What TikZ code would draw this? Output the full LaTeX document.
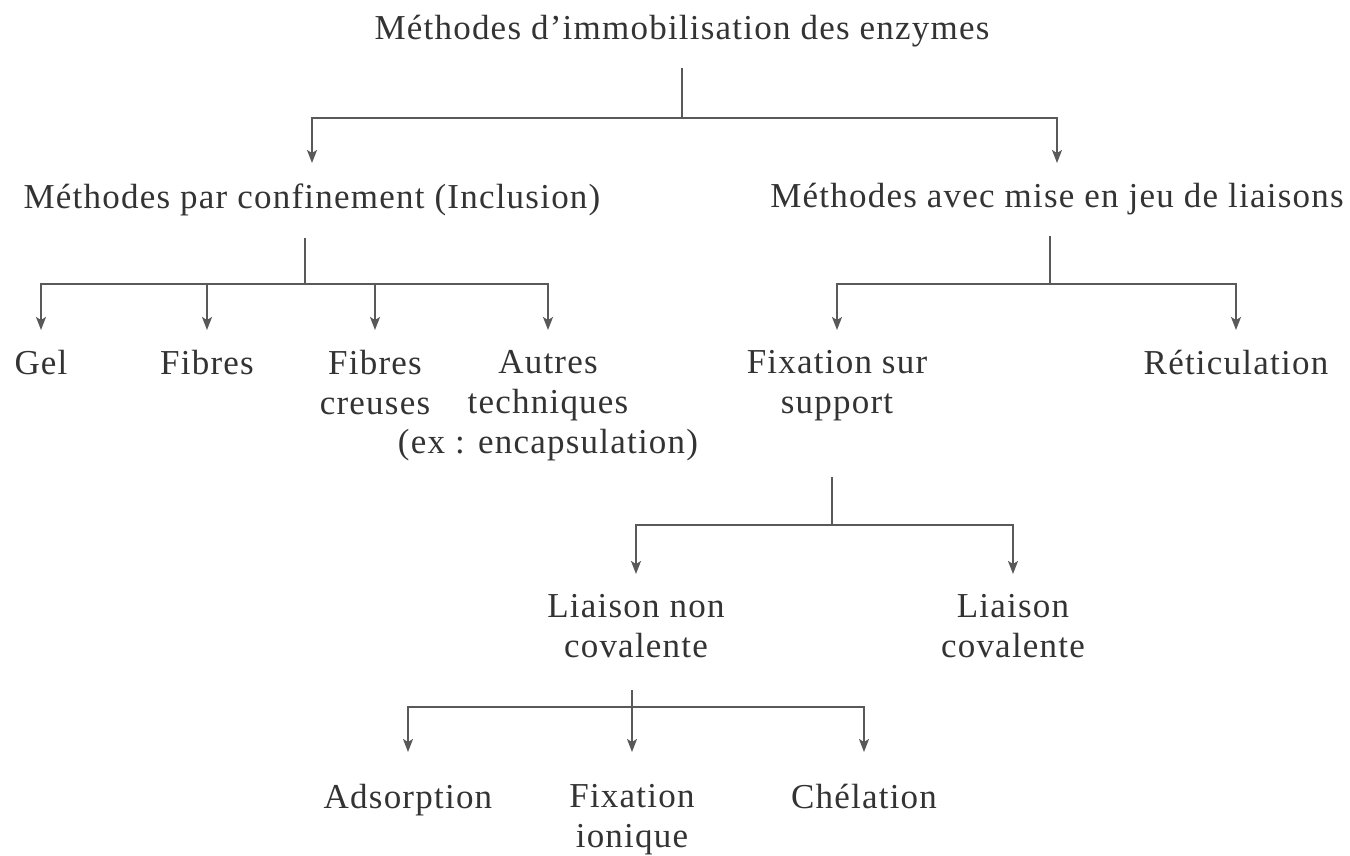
\documentclass[tikz,border=0pt]{standalone}
\usepackage{fontspec}
\setmainfont{Liberation Serif}[LetterSpace=3.5]
\usetikzlibrary{arrows.meta}

\begin{document}
\begin{tikzpicture}[x=0.5pt, y=-0.5pt,
  every node/.style={font=\fontsize{17.5}{20}\selectfont, text=black!80, align=center, inner xsep=0pt, inner ysep=10pt},
  item/.style={anchor=north},
  link/.style={draw=black!65, line width=0.8pt},
  arr/.style={link, -{Stealth[length=6.5pt,width=5pt,inset=1.5pt]}}]
  \useasboundingbox (0,0) rectangle (1350,856);

  \node[anchor=base] (root) at (682,40) {Méthodes d’immobilisation des enzymes};
  \node[item] (conf) at (312,163) {Méthodes par confinement (Inclusion)};
  \node[item] (liais) at (1057,163) {Méthodes avec mise en jeu de liaisons};

  \node[item] (gel) at (41,330) {Gel};
  \node[item] (fib) at (207,330) {Fibres};
  \node[item] (creu) at (375,330) {Fibres\\creuses};
  \node[item] (autr) at (548,330) {Autres\\techniques\\(ex : encapsulation)};
  \node[item] (fix) at (837,330) {Fixation sur\\support};
  \node[item] (ret) at (1236,330) {Réticulation};

  \node[item] (nonco) at (636,574) {Liaison non\\covalente};
  \node[item] (cov) at (1013,574) {Liaison\\covalente};

  \node[item] (ads) at (408,764) {Adsorption};
  \node[item] (ion) at (632,764) {Fixation\\ionique};
  \node[item] (chel) at (864,764) {Chélation};

  % stems and bars
  \coordinate (j0) at (682,118);
  \coordinate (s1) at (305,238);  \coordinate (j1) at (305,284);
  \coordinate (s2) at (1050,236); \coordinate (j2) at (1050,284);
  \coordinate (s3) at (832,477);  \coordinate (j3) at (832,525);
  \coordinate (s4) at (632,690);  \coordinate (j4) at (632,707);

  \draw[link] (root.south) -- (j0);
  \draw[arr] (j0) -| (conf.north);
  \draw[arr] (j0) -| (liais.north);

  \draw[link] (s1) -- (j1);
  \foreach \n in {gel,fib,creu,autr}
    \draw[arr] (j1) -| (\n.north);

  \draw[link] (s2) -- (j2);
  \foreach \n in {fix,ret}
    \draw[arr] (j2) -| (\n.north);

  \draw[link] (s3) -- (j3);
  \foreach \n in {nonco,cov}
    \draw[arr] (j3) -| (\n.north);

  \draw[arr, shorten >=6pt] (s4) -- (ion.north);
  \foreach \n in {ads,chel}
    \draw[arr, shorten >=6pt] (j4) -| (\n.north);
\end{tikzpicture}
\end{document}
